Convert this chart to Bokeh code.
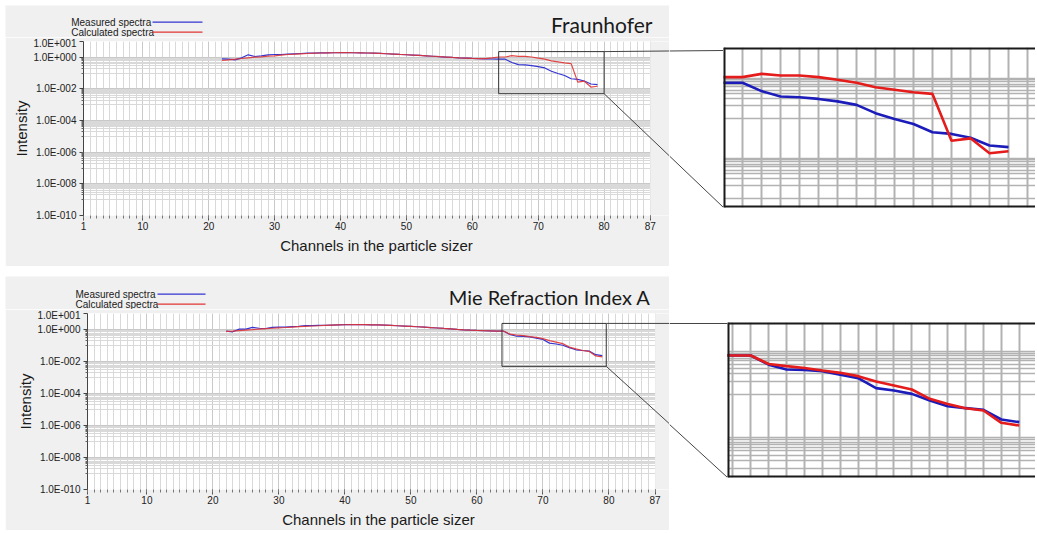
import math
from bokeh.plotting import figure
from bokeh.layouts import row, column
from bokeh.models import Range1d, FixedTicker, CustomJSTickFormatter, Grid, Spacer
from bokeh.core.properties import value
from bokeh.embed import file_html
from bokeh.resources import INLINE

# ---------------- data ----------------
channels = list(range(22, 80))

fraunhofer_measured = [
    0.80, 0.76, 0.69, 0.93, 1.44, 1.13, 1.24, 1.44, 1.51, 1.51,
    1.58, 1.66, 1.74, 1.83, 1.83, 1.90, 1.92, 1.95, 1.97, 1.97,
    1.95, 1.92, 1.88, 1.82, 1.75, 1.68, 1.60, 1.52, 1.45, 1.38,
    1.31, 1.24, 1.17, 1.10, 1.04, 0.98, 0.93, 0.89, 0.85, 0.82,
    0.80, 0.78, 0.76, 0.76, 0.47, 0.345, 0.33, 0.30, 0.26, 0.213,
    0.132, 0.095, 0.071, 0.044, 0.040, 0.032, 0.0205, 0.0187]
fraunhofer_calculated = [
    0.63, 0.69, 0.76, 0.84, 0.93, 1.02, 1.07, 1.18, 1.24, 1.37,
    1.51, 1.58, 1.66, 1.74, 1.83, 1.88, 1.92, 1.95, 1.97, 1.97,
    1.95, 1.92, 1.88, 1.82, 1.75, 1.68, 1.60, 1.52, 1.45, 1.38,
    1.31, 1.24, 1.17, 1.10, 1.04, 0.98, 0.93, 0.89, 0.85, 0.82,
    0.82, 0.92, 1.05, 1.05, 1.27, 1.155, 1.155, 1.05, 0.90, 0.76,
    0.59, 0.51, 0.44, 0.40, 0.027, 0.031, 0.0132, 0.0148]
mie_measured = [
    0.80, 0.72, 1.06, 1.06, 1.35, 1.20, 1.15, 1.35, 1.42, 1.42,
    1.50, 1.56, 1.75, 1.75, 1.80, 1.85, 1.90, 1.95, 2.00, 2.02,
    2.02, 2.00, 1.97, 1.92, 1.86, 1.80, 1.72, 1.64, 1.56, 1.48,
    1.40, 1.32, 1.24, 1.16, 1.09, 1.02, 0.96, 0.91, 0.87, 0.84,
    0.82, 0.80, 0.80, 0.49, 0.38, 0.373, 0.348, 0.286, 0.24, 0.141,
    0.124, 0.104, 0.073, 0.054, 0.0486, 0.0445, 0.0266, 0.0231]
mie_calculated = [
    0.76, 0.80, 0.86, 0.92, 0.98, 1.06, 1.13, 1.20, 1.27, 1.33,
    1.42, 1.50, 1.58, 1.65, 1.72, 1.80, 1.86, 1.92, 1.98, 2.00,
    2.01, 2.00, 1.97, 1.92, 1.86, 1.80, 1.72, 1.64, 1.56, 1.48,
    1.40, 1.32, 1.24, 1.16, 1.09, 1.02, 0.96, 0.91, 0.87, 0.84,
    0.82, 0.80, 0.80, 0.51, 0.454, 0.41, 0.36, 0.318, 0.267, 0.20,
    0.162, 0.131, 0.080, 0.061, 0.0486, 0.043, 0.0223, 0.0193]

x_tick_values = [1, 10, 20, 30, 40, 50, 60, 70, 80, 87]
x_minor_values = list(range(1, 88))
y_tick_values = [1e-10, 1e-8, 1e-6, 1e-4, 1e-2, 1.0, 10.0]
y_minor_values = [k * 10.0 ** (e - 1) for e in (0, -2, -4, -6, -8) for k in range(1, 10)]

legend_labels = ["Measured spectra", "Calculated spectra"]
x_label = "Channels in the particle sizer"
y_label = "Intensity"

# ---------------- styles / layout (page pixels) ----------------
PANEL = "#f0f0f0"
BLUE = "#3434d2"
RED = "#e03434"
BLUE_IN = "#1c1cba"
RED_IN = "#e41c1c"
GRID_MAJ = "#c9c9c9"
GRID_MIN = "#d9d9d9"
GRID_IN = "#b2b2b2"
FONT = "Liberation Sans"

PANEL_LEFT = 5
MAIN_RIGHT = 669
PAGE_RIGHT = 1035

TOP = dict(title="Fraunhofer", measured=fraunhofer_measured, calculated=fraunhofer_calculated,
           panel_top=5, strip_bottom=37, panel_bottom=266,
           frame_left=83, frame_top=41, frame_bottom=215, x_per=6.59,
           box=(64, 80, 5e-3, 2.3),
           inset_left=723, inset_top=47, inset_bottom=207,
           inset_x0=64.0, inset_x_per=19.0, inset_one=77.5, inset_dec=40.0,
           conn_top=(723, 50), conn_bot=(723, 207),
           legend_x=70.7, legend_y=(21.6, 31.6), legend_line=(152, 202),
           title_xy=(652, 24), title_size="21px")
BOTTOM = dict(title="Mie Refraction Index A", measured=mie_measured, calculated=mie_calculated,
              panel_top=276, strip_bottom=309, panel_bottom=530,
              frame_left=87, frame_top=313, frame_bottom=490, x_per=6.6,
              box=(63.8, 79.6, 5e-3, 2.4),
              inset_left=727, inset_top=322, inset_bottom=477,
              inset_x0=62.7, inset_x_per=17.9, inset_one=350.8, inset_dec=43.3,
              conn_top=(727, 323), conn_bot=(727, 477),
              legend_x=75.0, legend_y=(293.6, 303.6), legend_line=(157, 205),
              title_xy=(650, 296), title_size="20px")

fmt = CustomJSTickFormatter(code="""
const e = Math.round(Math.log10(tick));
const s = e < 0 ? '-' : '+';
return '1.0E' + s + String(Math.abs(e)).padStart(3, '0');
""")


def plain(width, height, x_range, y_range, bg):
    p = figure(width=width, height=height, x_range=x_range, y_range=y_range,
               output_backend="svg", toolbar_location=None,
               x_axis_location=None, y_axis_location=None,
               min_border_left=0, min_border_right=0, min_border_top=0, min_border_bottom=0,
               background_fill_color=bg, border_fill_color=bg, outline_line_color=None)
    p.frame_align = False
    for g in p.grid:
        g.visible = False
    return p


def build_row(P):
    fl, ft, fb = P["frame_left"], P["frame_top"], P["frame_bottom"]
    xp = P["x_per"]
    dp = (fb - ft) / 11.0
    pt, sb, pb = P["panel_top"], P["strip_bottom"], P["panel_bottom"]

    def dx(px):
        return 1 + (px - fl) / xp

    def dy(py):
        return 10 ** (-10 + (fb - py) / dp)

    def pxx(x):
        return fl + (x - 1) * xp

    def pyy(y):
        return fb - (math.log10(y) + 10) * dp

    x_end = dx(MAIN_RIGHT)
    panel_w = MAIN_RIGHT - PANEL_LEFT

    # ---- strip above the chart: legend + title ----
    strip = plain(panel_w, sb - pt, Range1d(PANEL_LEFT, MAIN_RIGHT), Range1d(sb, pt), PANEL)
    lx = P["legend_x"]
    l0, l1 = P["legend_line"]
    ly = list(P["legend_y"])
    strip.text(x=[lx, lx], y=ly, text=legend_labels, text_font=value(FONT),
               text_font_size="10px", text_align="left", text_baseline="middle",
               text_color="#1a1a1a")
    strip.segment(x0=[l0, l0], y0=ly, x1=[l1, l1], y1=ly, line_color=[BLUE, RED], line_width=1.3)
    strip.text(x=[P["title_xy"][0]], y=[P["title_xy"][1]], text=[P["title"]],
               text_font=value("Lato"), text_font_size=P["title_size"], text_align="right",
               text_baseline="middle", text_color="#1a1a1a")

    # ---- main chart ----
    p = figure(width=panel_w, height=pb - sb,
               x_range=Range1d(1, x_end), y_range=Range1d(1e-10, 10), y_axis_type="log",
               output_backend="svg", toolbar_location=None,
               min_border_left=fl - PANEL_LEFT, min_border_right=0,
               min_border_top=ft - sb, min_border_bottom=pb - fb,
               background_fill_color="white", border_fill_color=PANEL, outline_line_color=None)
    p.frame_align = False

    xa = p.xaxis[0]
    xa.ticker = FixedTicker(ticks=x_tick_values, minor_ticks=x_minor_values)
    xa.bounds = (1, 87)
    xa.axis_line_color = None
    xa.major_tick_in = 0
    xa.major_tick_out = 5
    xa.minor_tick_in = 0
    xa.minor_tick_out = 3
    xa.major_tick_line_color = "#555555"
    xa.minor_tick_line_color = "#777777"
    xa.major_label_standoff = 1
    xa.major_label_text_font = FONT
    xa.major_label_text_font_size = "10px"
    xa.major_label_text_color = "#222222"
    xa.axis_label = x_label
    xa.axis_label_text_font = FONT
    xa.axis_label_text_font_size = "15px"
    xa.axis_label_text_font_style = "normal"
    xa.axis_label_text_color = "#1a1a1a"
    xa.axis_label_standoff = 4

    ya = p.yaxis[0]
    ya.ticker = FixedTicker(ticks=y_tick_values, minor_ticks=y_minor_values)
    ya.formatter = fmt
    ya.axis_line_color = "#444444"
    ya.major_tick_in = 0
    ya.major_tick_out = 4
    ya.minor_tick_in = 0
    ya.minor_tick_out = 2
    ya.major_tick_line_color = "#444444"
    ya.minor_tick_line_color = "#666666"
    ya.major_label_standoff = 3
    ya.major_label_text_font = FONT
    ya.major_label_text_font_size = "10px"
    ya.major_label_text_color = "#222222"
    ya.axis_label = y_label
    ya.axis_label_text_font = FONT
    ya.axis_label_text_font_size = "15px"
    ya.axis_label_text_font_style = "normal"
    ya.axis_label_text_color = "#1a1a1a"
    ya.axis_label_standoff = 0

    p.xgrid.grid_line_color = GRID_MAJ
    p.xgrid.minor_grid_line_color = GRID_MIN
    p.ygrid.grid_line_color = GRID_MAJ
    p.ygrid.minor_grid_line_color = GRID_MIN

    # grey panel to the right of channel 87
    p.quad(left=[87], right=[x_end], bottom=[1e-10], top=[10], fill_color=PANEL, line_color=None)

    p.line(channels, P["measured"], line_color=BLUE, line_width=1.2)
    p.line(channels, P["calculated"], line_color=RED, line_width=1.2, line_alpha=0.9)

    bx0, bx1, by0, by1 = P["box"]
    p.quad(left=[bx0], right=[bx1], bottom=[by0], top=[by1], fill_color=None,
           line_color="#333333", line_width=1)

    def y_at(a, b, x):
        return a[1] + (b[1] - a[1]) * (x - a[0]) / (b[0] - a[0])

    c_top0 = (pxx(bx1), pyy(by1))
    c_bot0 = (pxx(bx1), pyy(by0))
    yt = y_at(c_top0, P["conn_top"], MAIN_RIGHT)
    yb = y_at(c_bot0, P["conn_bot"], MAIN_RIGHT)
    p.segment(x0=[bx1, bx1], y0=[by1, by0], x1=[x_end, x_end], y1=[dy(yt), dy(yb)],
              line_color="#444444", line_width=1)

    # ---- connector strip ----
    il = P["inset_left"]
    conn = plain(il - MAIN_RIGHT, pb - pt, Range1d(MAIN_RIGHT, il), Range1d(pb, pt), "white")
    conn.segment(x0=[MAIN_RIGHT, MAIN_RIGHT], y0=[yt, yb],
                 x1=[P["conn_top"][0], P["conn_bot"][0]], y1=[P["conn_top"][1], P["conn_bot"][1]],
                 line_color="#444444", line_width=1)

    # ---- zoomed inset ----
    it, ib = P["inset_top"], P["inset_bottom"]
    ix0 = P["inset_x0"]
    ix1 = ix0 + (PAGE_RIGHT - il) / P["inset_x_per"]
    iy0 = 10 ** ((P["inset_one"] - ib) / P["inset_dec"])
    iy1 = 10 ** ((P["inset_one"] - it) / P["inset_dec"])
    ins = figure(width=PAGE_RIGHT - il, height=pb - pt, x_range=Range1d(ix0, ix1),
                 y_range=Range1d(iy0, iy1), y_axis_type="log",
                 x_axis_location=None, y_axis_location=None,
                 output_backend="svg", toolbar_location=None,
                 min_border_left=0, min_border_right=0,
                 min_border_top=it - pt, min_border_bottom=pb - ib,
                 background_fill_color="white", border_fill_color="white", outline_line_color=None)
    ins.frame_align = False
    for g in ins.grid:
        g.visible = False
    ins.add_layout(Grid(dimension=0, ticker=FixedTicker(ticks=list(range(55, 88))),
                        grid_line_color=GRID_IN, grid_line_width=2), "center")
    ins.add_layout(Grid(dimension=1, ticker=FixedTicker(ticks=y_tick_values + y_minor_values),
                        grid_line_color=GRID_IN, grid_line_width=1.6), "center")
    ins.line(channels, P["measured"], line_color=BLUE_IN, line_width=2.6)
    ins.line(channels, P["calculated"], line_color=RED_IN, line_width=2.6)
    ins.segment(x0=[ix0, ix0, ix0], y0=[iy0, iy1, iy0], x1=[ix0, ix1, ix1], y1=[iy1, iy1, iy0],
                line_color="#1a1a1a", line_width=4)

    return row(Spacer(width=PANEL_LEFT, height=pb - pt), column(strip, p), conn, ins)


layout = column(Spacer(width=PAGE_RIGHT, height=TOP["panel_top"]),
                build_row(TOP),
                Spacer(width=PAGE_RIGHT, height=BOTTOM["panel_top"] - TOP["panel_bottom"]),
                build_row(BOTTOM))

open("out.html", "w").write(file_html(layout, INLINE, title="Measured vs calculated spectra"))
